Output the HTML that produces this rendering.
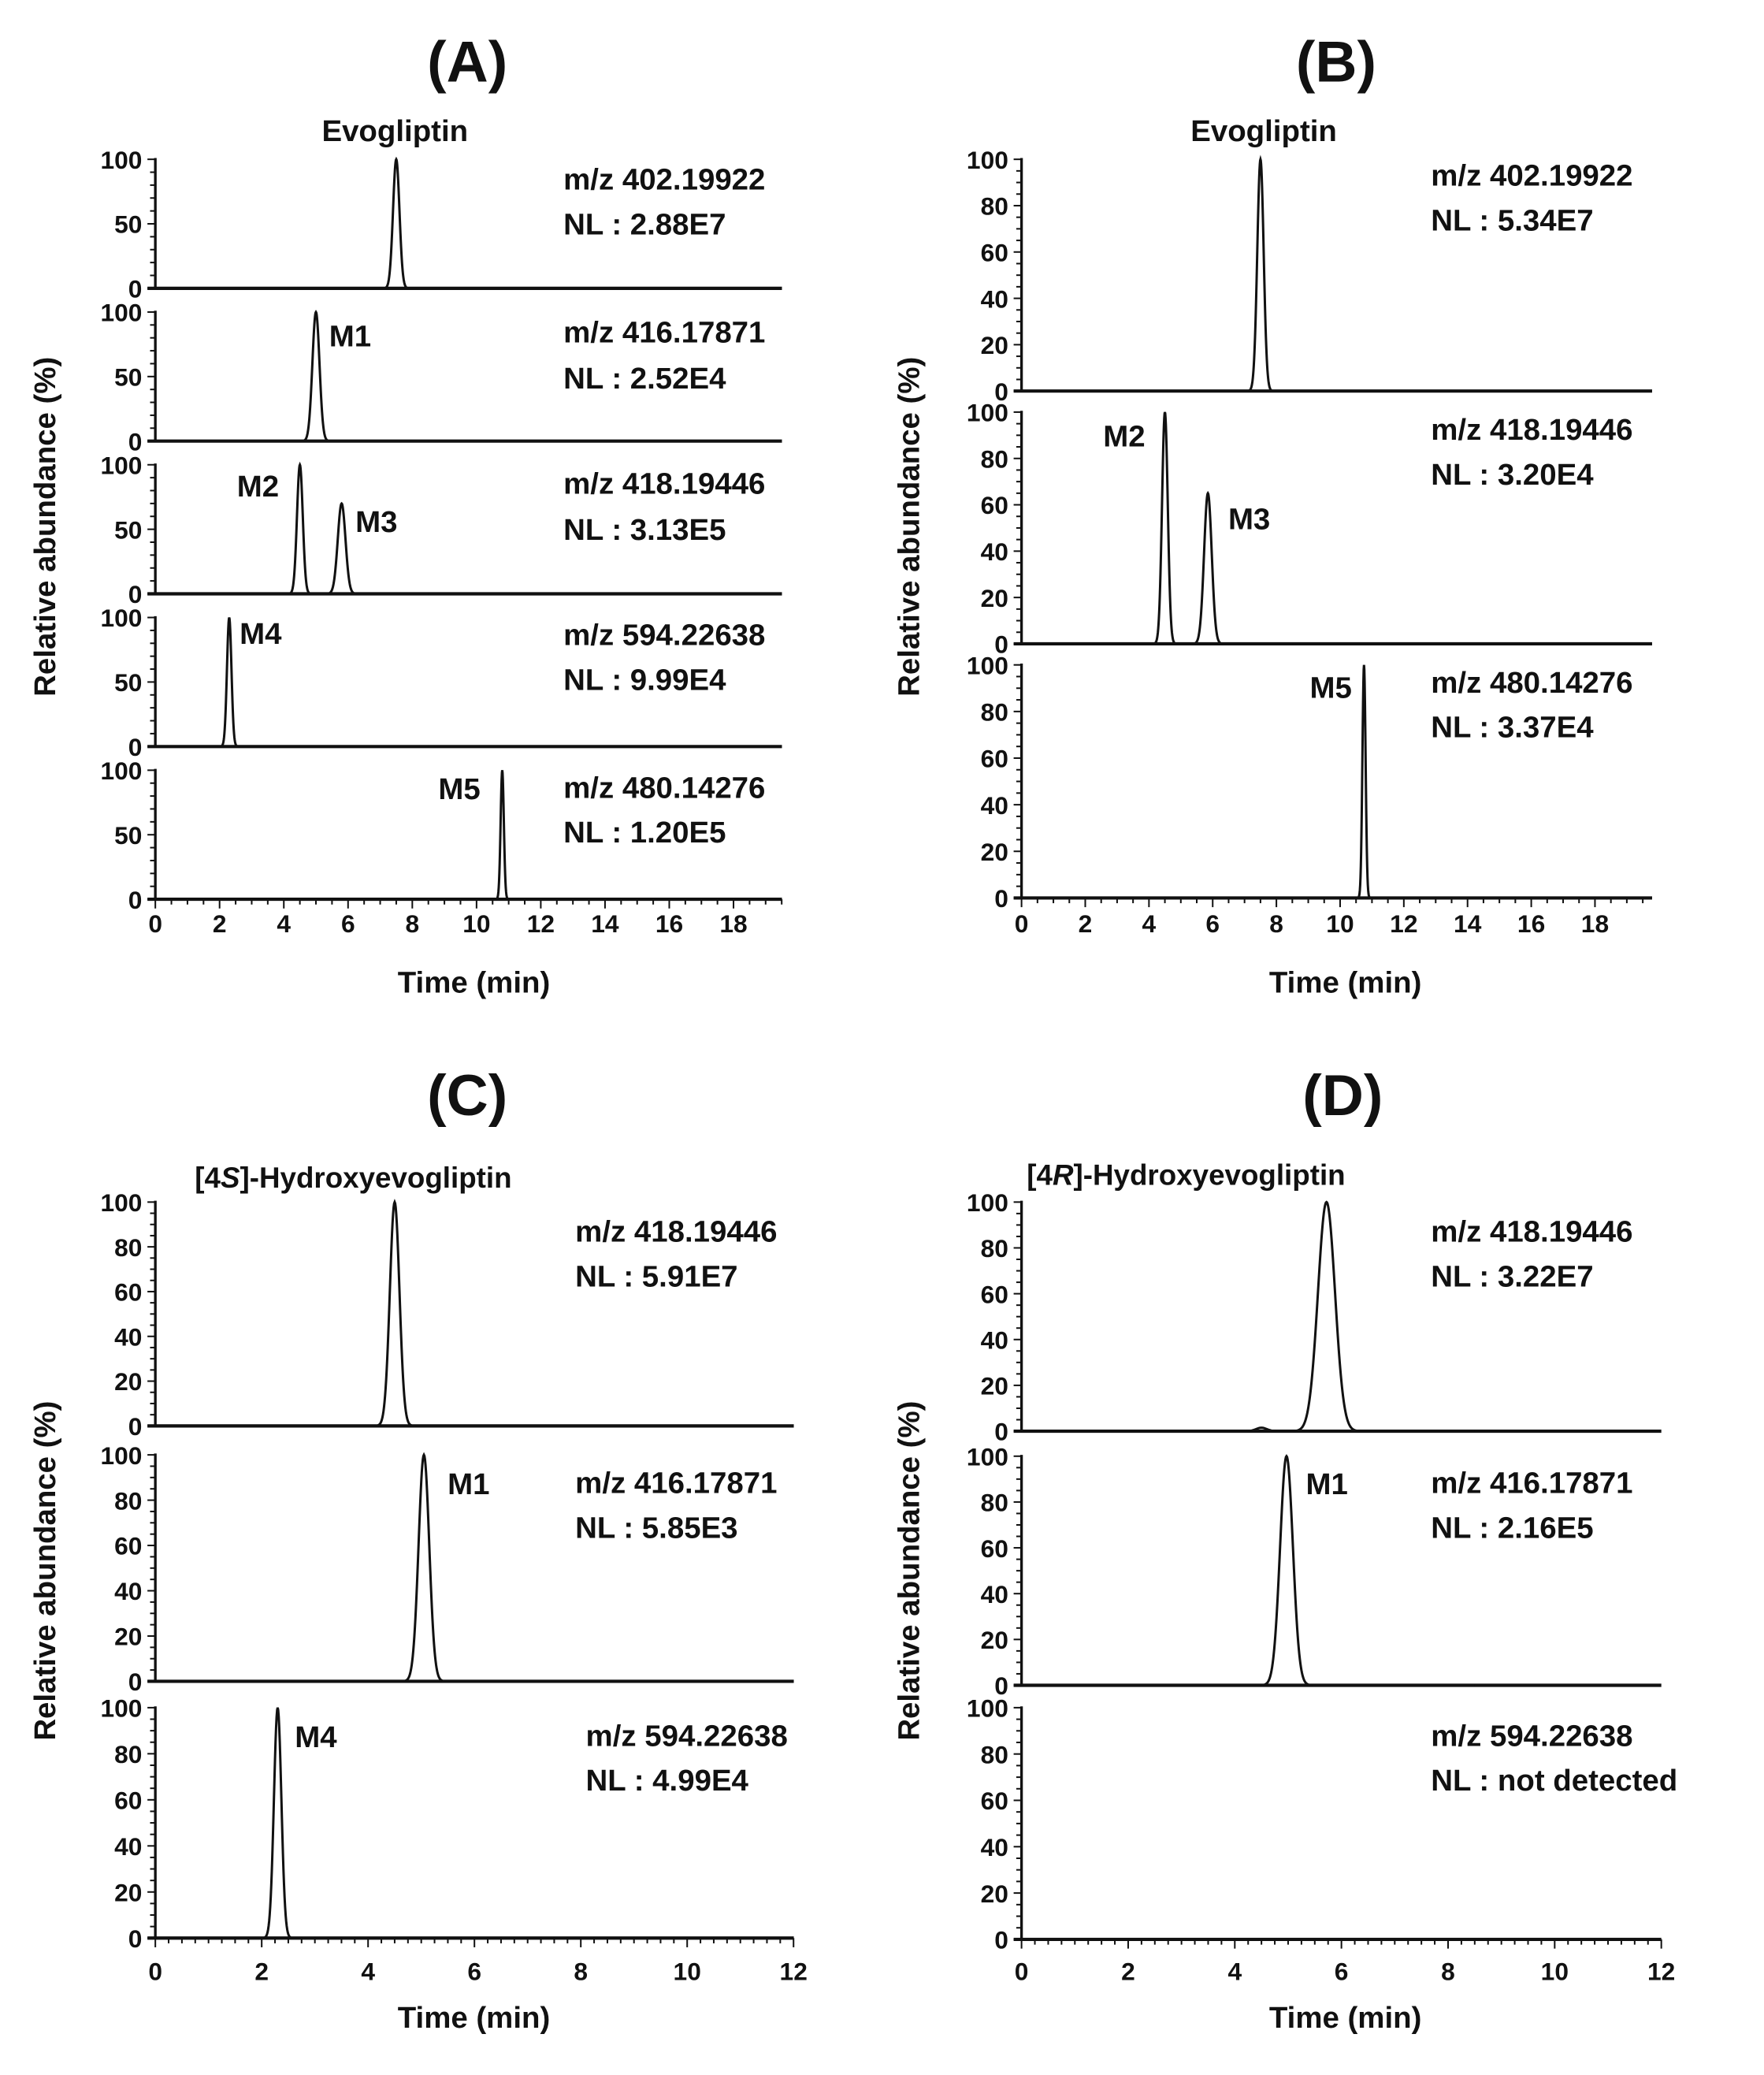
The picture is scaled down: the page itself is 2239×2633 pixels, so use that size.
<!DOCTYPE html>
<html><head><meta charset="utf-8"><style>
html,body{margin:0;padding:0;background:#fff}
svg{display:block}
text{font-family:"Liberation Sans",Arial,sans-serif;font-weight:bold;fill:#111}
</style></head><body>
<svg id="s" width="2239" height="2633" viewBox="0 0 1340 1576" preserveAspectRatio="none" xmlns="http://www.w3.org/2000/svg"></svg>
<script>
const S=document.getElementById('s');let h='';
function T(x,y,t,sz,anc,extra){h+=`<text x="${x}" y="${y}" font-size="${sz}" text-anchor="${anc||'start'}" ${extra||''}>${t}</text>`;}
function L(x1,y1,x2,y2,w){h+=`<line x1="${x1}" y1="${y1}" x2="${x2}" y2="${y2}" stroke="#111" stroke-width="${w}"/>`;}
function panel2(ax,ppm,xmax,xend,tickStep,minorX,subs,yStep,yMinor,tickY,peaksAll){
  subs.forEach((s,i)=>{
    const [yt,yb]=s;
    L(ax,yt-1,ax,yb,2);
    L(ax-6,yb,xend,yb,2.5);
    for(let v=0;v<=100;v+=yMinor){const y=yb-(yb-yt)*v/100;L(ax-(v%yStep==0?6:4),y,ax,y,1.2);}
    for(let v=0;v<=100;v+=yStep){const y=yb-(yb-yt)*v/100;T(ax-10,y+7,v,19,'end');}
    const pk=peaksAll[i];let d='';
    for(let t=0;t<=(pk.end||8.5);t+=0.01){let v=0;pk.p.forEach(q=>{v+=q[1]*Math.exp(-0.5*((t-q[0])/q[2])**2)});
      const x=ax+t*ppm,y=yb-(yb-yt)*v/100;d+=(d?'L':'M')+x.toFixed(2)+' '+y.toFixed(2);}
    h+=`<path d="${d}" fill="none" stroke="#111" stroke-width="1.8"/>`;
  });
  const yb=subs[subs.length-1][1];
  for(let t=0;t<=xmax+1e-6;t+=minorX){const x=ax+t*ppm;const major=Math.abs(t/tickStep-Math.round(t/tickStep))<1e-6;L(x,yb,x,yb+(major?7:4),1.2);}
  for(let t=0;t<=xmax+1e-6;t+=tickStep){T(ax+t*ppm,tickY,Math.round(t),19,'middle');}
}
// A
panel2(118,24.4,19.5,594,2,0.5,[[121,219],[237,335],[353,451],[469,567],[585,683]],50,10,708,[
 {p:[[7.5,100,0.1]]},{p:[[5.0,100,0.11]]},{p:[[4.5,100,0.09],[5.8,70,0.12]]},{p:[[2.3,100,0.07]]},{p:[[10.8,100,0.05]],end:14.5}]);
T(355,62,'(A)',44,'middle');T(300,107,'Evogliptin',23,'middle');
T(360,754,'Time (min)',23,'middle');
T(0,0,'Relative abundance (%)',23,'middle','transform="translate(42,400) rotate(-90)"');
[[136,170,'402.19922','2.88E7'],[252,287,'416.17871','2.52E4'],[367,402,'418.19446','3.13E5'],[482,516,'594.22638','9.99E4'],[598,632,'480.14276','1.20E5']].forEach(r=>{T(428,r[0]+8,'m/z '+r[2],23);T(428,r[1]+8,'NL : '+r[3],23);});
T(250,263,'M1',23);T(180,377,'M2',23);T(270,404,'M3',23);T(182,489,'M4',23);T(333,607,'M5',23);
// B
panel2(776,24.2,19.5,1255,2,0.5,[[121,297],[313,489],[505,682]],20,5,708,[
 {p:[[7.5,100,0.1]]},{p:[[4.5,100,0.09],[5.85,65,0.12]]},{p:[[10.75,100,0.05]],end:14.5}]);
T(1015,62,'(B)',44,'middle');T(960,107,'Evogliptin',23,'middle');
T(1022,754,'Time (min)',23,'middle');
T(0,0,'Relative abundance (%)',23,'middle','transform="translate(698,400) rotate(-90)"');
[[133,167,'402.19922','5.34E7'],[326,360,'418.19446','3.20E4'],[518,552,'480.14276','3.37E4']].forEach(r=>{T(1087,r[0]+8,'m/z '+r[2],23);T(1087,r[1]+8,'NL : '+r[3],23);});
T(838,339,'M2',23);T(933,402,'M3',23);T(995,530,'M5',23);
// C
panel2(118,40.4,12,603,2,0.25,[[913,1083],[1105,1277],[1297,1472]],20,5,1504,[
 {p:[[4.5,100,0.09]]},{p:[[5.05,100,0.1]]},{p:[[2.3,100,0.07]]}]);
T(355,847,'(C)',44,'middle');T(148,902,'[4<tspan font-style="italic">S</tspan>]-Hydroxyevogliptin',22);
T(360,1540,'Time (min)',23,'middle');
T(0,0,'Relative abundance (%)',23,'middle','transform="translate(42,1193) rotate(-90)"');
[[935,969,'418.19446','5.91E7',437],[1126,1160,'416.17871','5.85E3',437],[1318,1352,'594.22638','4.99E4',445]].forEach(r=>{T(r[4],r[0]+8,'m/z '+r[2],23);T(r[4],r[1]+8,'NL : '+r[3],23);});
T(340,1135,'M1',23);T(224,1327,'M4',23);
// D
panel2(776,40.5,12,1262,2,0.25,[[913,1087],[1106,1280],[1297,1473]],20,5,1504,[
 {p:[[5.72,100,0.16],[4.5,1.5,0.1]]},{p:[[4.97,100,0.12]]},{p:[]}]);
T(1020,847,'(D)',44,'middle');T(780,900,'[4<tspan font-style="italic">R</tspan>]-Hydroxyevogliptin',22);
T(1022,1540,'Time (min)',23,'middle');
T(0,0,'Relative abundance (%)',23,'middle','transform="translate(698,1193) rotate(-90)"');
[[935,969,'418.19446','3.22E7'],[1126,1160,'416.17871','2.16E5'],[1318,1352,'594.22638','not detected']].forEach(r=>{T(1087,r[0]+8,'m/z '+r[2],23);T(1087,r[1]+8,'NL : '+r[3],23);});
T(992,1135,'M1',23);
S.innerHTML=h;
</script>
</body></html>
